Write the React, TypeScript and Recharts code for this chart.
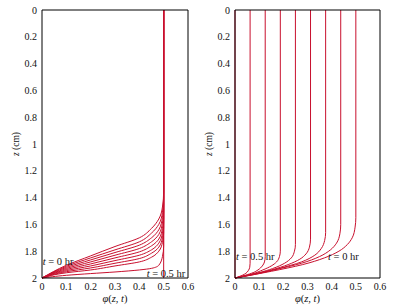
import { LineChart, Line, XAxis, YAxis, ReferenceDot } from "recharts";

const LINE = "#c8102e";
const FONT = "Liberation Serif";

const X_TICKS = [0, 0.1, 0.2, 0.3, 0.4, 0.5, 0.6];
const Z_TICKS = [0, 0.2, 0.4, 0.6, 0.8, 1, 1.2, 1.4, 1.6, 1.8, 2];

// left panel: phi levels, and the depth z (cm) where each curve crosses them
const LEFT_PHI = [0.5, 0.495, 0.48, 0.45, 0.4, 0.3, 0.2, 0.1, 0];
const leftT0 = [1.35, 1.47, 1.56, 1.63, 1.7, 1.765, 1.835, 1.905, 2];
const leftT1 = [1.4, 1.51, 1.6, 1.665, 1.73, 1.79, 1.85, 1.913, 2];
const leftT2 = [1.45, 1.55, 1.64, 1.7, 1.755, 1.81, 1.865, 1.921, 2];
const leftT3 = [1.5, 1.59, 1.675, 1.73, 1.78, 1.83, 1.88, 1.929, 2];
const leftT4 = [1.55, 1.63, 1.71, 1.76, 1.805, 1.85, 1.895, 1.937, 2];
const leftT5 = [1.58, 1.665, 1.74, 1.79, 1.83, 1.87, 1.91, 1.945, 2];
const leftT6 = [1.62, 1.7, 1.77, 1.815, 1.855, 1.89, 1.925, 1.953, 2];
const leftT7 = [1.66, 1.735, 1.8, 1.845, 1.88, 1.91, 1.94, 1.961, 2];
const leftT8 = [1.76, 1.84, 1.905, 1.928, 1.94, 1.955, 1.967, 1.98, 2];
const leftEnd: [number, number][] = [[0, 0.5], [2, 0.5]];

// right panel: [z, phi] pairs per curve
const rightT0: [number, number][] = [[0, 0.5], [1.55, 0.5], [1.62, 0.497], [1.7, 0.485], [1.75, 0.465], [1.8, 0.43], [1.85, 0.37], [1.9, 0.28], [1.95, 0.15], [2, 0]];
const rightT1: [number, number][] = [[0, 0.4375], [1.6, 0.4375], [1.67, 0.434], [1.74, 0.42], [1.79, 0.395], [1.84, 0.35], [1.89, 0.275], [1.94, 0.16], [2, 0]];
const rightT2: [number, number][] = [[0, 0.375], [1.66, 0.375], [1.72, 0.371], [1.78, 0.357], [1.83, 0.33], [1.88, 0.275], [1.93, 0.18], [1.97, 0.09], [2, 0]];
const rightT3: [number, number][] = [[0, 0.3125], [1.71, 0.3125], [1.77, 0.308], [1.82, 0.294], [1.86, 0.268], [1.9, 0.22], [1.94, 0.15], [1.97, 0.08], [2, 0]];
const rightT4: [number, number][] = [[0, 0.25], [1.75, 0.25], [1.8, 0.246], [1.85, 0.233], [1.89, 0.205], [1.93, 0.155], [1.96, 0.1], [2, 0]];
const rightT5: [number, number][] = [[0, 0.1875], [1.8, 0.1875], [1.84, 0.184], [1.88, 0.172], [1.91, 0.15], [1.94, 0.115], [1.97, 0.07], [2, 0]];
const rightT6: [number, number][] = [[0, 0.125], [1.84, 0.125], [1.88, 0.122], [1.91, 0.113], [1.94, 0.095], [1.96, 0.075], [1.98, 0.042], [2, 0]];
const rightT7: [number, number][] = [[0, 0.0625], [1.89, 0.0625], [1.92, 0.061], [1.945, 0.055], [1.965, 0.045], [1.98, 0.03], [2, 0]];
const rightEnd: [number, number][] = [[0, 0], [2, 0]];

const fromLevels = (zs: number[]) => [{ z: 0, phi: 0.5 }, ...zs.map((z, i) => ({ z, phi: LEFT_PHI[i] }))];
const fromPairs = (p: [number, number][]) => p.map(([z, phi]) => ({ z, phi }));

const leftCurves = [leftT0, leftT1, leftT2, leftT3, leftT4, leftT5, leftT6, leftT7, leftT8].map(fromLevels);
leftCurves.push(fromPairs(leftEnd));
const rightCurves = [rightT0, rightT1, rightT2, rightT3, rightT4, rightT5, rightT6, rightT7, rightEnd].map(fromPairs);

const tickStyle = { fontFamily: FONT, fontSize: 10, fill: "#111" };

function XLabel(props: any) {
  const vb = props.viewBox;
  return (
    <text x={vb.x + vb.width / 2} y={vb.y + 24} textAnchor="middle" fontFamily={FONT} fontSize={10.5} fill="#111">
      <tspan fontStyle="italic">φ</tspan>(<tspan fontStyle="italic">z</tspan>, <tspan fontStyle="italic">t</tspan>)
    </text>
  );
}

function YLabel({ viewBox, at }: any) {
  const cy = viewBox.y + viewBox.height / 2;
  const cx = viewBox.x + at;
  return (
    <text x={cx} y={cy} transform={`rotate(-90 ${cx} ${cy})`} textAnchor="middle" fontFamily={FONT} fontSize={9.5} fill="#111">
      <tspan fontStyle="italic">z</tspan> (cm)
    </text>
  );
}

function TimeLabel({ cx, cy, value }: any) {
  return (
    <text x={cx} y={cy} fontFamily={FONT} fontSize={10.5} fill="#111">
      <tspan fontStyle="italic">t</tspan> = {value} hr
    </text>
  );
}

function Panel({ width, right, yWidth, yLabelAt, curves, labels }: any) {
  return (
    <LineChart width={width} height={307} layout="vertical" margin={{ top: 10, right, bottom: 0, left: 0 }}>
      <XAxis xAxisId="b" type="number" domain={[0, 0.6]} ticks={X_TICKS} interval={0} height={29}
        tickLine={false} tickSize={0} tickMargin={5} tick={tickStyle} axisLine={{ stroke: "#000" }}
        label={{ content: <XLabel /> }} />
      <XAxis xAxisId="bm" type="number" orientation="bottom" mirror domain={[0, 0.6]} ticks={X_TICKS} interval={0}
        tick={false} tickSize={3} tickLine={{ stroke: "#000" }} axisLine={false} />
      <XAxis xAxisId="t" type="number" orientation="top" mirror domain={[0, 0.6]} ticks={X_TICKS} interval={0}
        tick={false} tickSize={3} tickLine={{ stroke: "#000" }} axisLine={{ stroke: "#000" }} />
      <YAxis yAxisId="l" type="number" dataKey="z" domain={[0, 2]} ticks={Z_TICKS} interval={0} width={yWidth}
        tickLine={false} tickSize={0} tickMargin={5} tick={tickStyle} axisLine={{ stroke: "#000" }}
        label={{ content: <YLabel at={yLabelAt} /> }} />
      <YAxis yAxisId="lm" type="number" orientation="left" mirror domain={[0, 2]} ticks={Z_TICKS} interval={0}
        tick={false} tickSize={3} tickLine={{ stroke: "#000" }} axisLine={false} />
      <YAxis yAxisId="r" type="number" orientation="right" mirror domain={[0, 2]} ticks={Z_TICKS} interval={0}
        tick={false} tickSize={3} tickLine={{ stroke: "#000" }} axisLine={{ stroke: "#000" }} />
      {curves.map((d: any, i: number) => (
        <Line key={i} xAxisId="b" yAxisId="l" data={d} dataKey="phi" type="monotone" stroke={LINE}
          strokeWidth={1} dot={false} isAnimationActive={false} />
      ))}
      {labels.map((l: any, i: number) => (
        <ReferenceDot key={"lab" + i} xAxisId="b" yAxisId="l" x={l.x} y={l.z} r={0}
          shape={(p: any) => <TimeLabel cx={p.cx} cy={p.cy} value={l.text} />} />
      ))}
    </LineChart>
  );
}

export default function App() {
  return (
    <div style={{ position: "absolute", left: 0, top: 0, display: "flex", background: "#fff" }}>
      <Panel width={200} right={12} yWidth={42} yLabelAt={19} curves={leftCurves}
        labels={[{ x: 0.003, z: 1.9, text: "0" }, { x: 0.43, z: 1.99, text: "0.5" }]} />
      <Panel width={204} right={24} yWidth={35} yLabelAt={12} curves={rightCurves}
        labels={[{ x: 0.004, z: 1.865, text: "0.5" }, { x: 0.385, z: 1.865, text: "0" }]} />
    </div>
  );
}
